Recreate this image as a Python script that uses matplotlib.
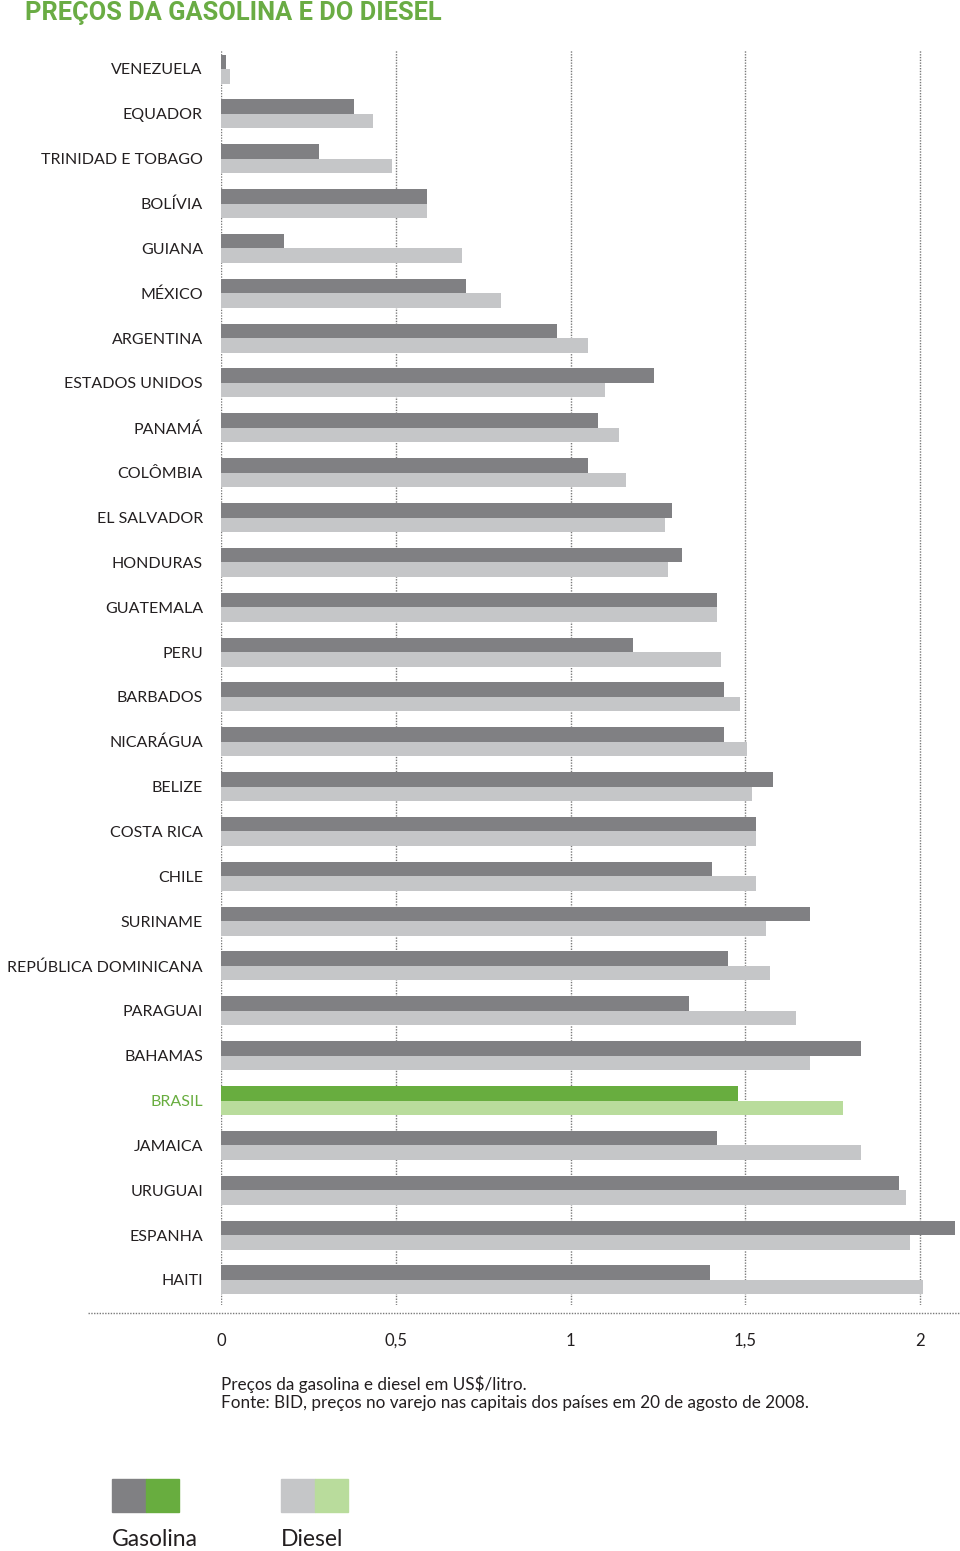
import matplotlib
matplotlib.use("Agg")
import matplotlib.pyplot as plt
from matplotlib.patches import Rectangle
from matplotlib.lines import Line2D
import numpy as np

# dados (US$/litro)
paises = ["VENEZUELA", "EQUADOR", "TRINIDAD E TOBAGO", "BOLÍVIA", "GUIANA", "MÉXICO",
          "ARGENTINA", "ESTADOS UNIDOS", "PANAMÁ", "COLÔMBIA", "EL SALVADOR", "HONDURAS",
          "GUATEMALA", "PERU", "BARBADOS", "NICARÁGUA", "BELIZE", "COSTA RICA", "CHILE",
          "SURINAME", "REPÚBLICA DOMINICANA", "PARAGUAI", "BAHAMAS", "BRASIL", "JAMAICA",
          "URUGUAI", "ESPANHA", "HAITI"]
gasolina = [0.015, 0.38, 0.28, 0.59, 0.18, 0.70, 0.96, 1.24, 1.08, 1.05, 1.29, 1.32,
            1.42, 1.18, 1.44, 1.44, 1.58, 1.53, 1.405, 1.685, 1.45, 1.34, 1.83, 1.48,
            1.42, 1.94, 2.10, 1.40]
diesel = [0.025, 0.435, 0.49, 0.59, 0.69, 0.80, 1.05, 1.10, 1.14, 1.16, 1.27, 1.28,
          1.42, 1.43, 1.485, 1.505, 1.52, 1.53, 1.53, 1.56, 1.57, 1.645, 1.685, 1.78,
          1.83, 1.96, 1.97, 2.01]
ticks = [0, 0.5, 1, 1.5, 2]
tick_labels = ["0", "0,5", "1", "1,5", "2"]
destaque = "BRASIL"

cinza_esc = "#808083"
cinza_cla = "#c5c6c8"
verde_esc = "#68ad3f"
verde_cla = "#b9dc9c"
verde_tit = "#6aac44"
texto = "#231f20"

plt.rcParams['font.family'] = ['Lato', 'DejaVu Sans']

W, H = 960, 1551
fig = plt.figure(figsize=(W / 100, H / 100), dpi=100)

# eixo: x de 221 a 960 px, y de 50 a 1305 px
ax = fig.add_axes([221 / W, 1 - 1305 / H, (960 - 221) / W, (1305 - 50) / H])
passo = 44.85
ax.set_ylim((1305 - 69) / passo, -(69 - 50) / passo)
ax.set_xlim(0, (960 - 221) / 349.5)

y = np.arange(len(paises))
h = 14.5 / passo
cores_g = [verde_esc if p == destaque else cinza_esc for p in paises]
cores_d = [verde_cla if p == destaque else cinza_cla for p in paises]
ax.barh(y - h / 2, gasolina, height=h, color=cores_g, zorder=3)
ax.barh(y + h / 2, diesel, height=h, color=cores_d, zorder=3)

for t in ticks:
    ax.axvline(t, color="#7a7a7a", linestyle=(0, (1, 1)), linewidth=1, zorder=1)

for s in ax.spines.values():
    s.set_visible(False)
ax.set_xticks(ticks)
ax.set_xticklabels(tick_labels)
ax.tick_params(axis="x", length=0, pad=20, labelsize=12, labelcolor=texto)
ax.set_yticks(y)
ax.set_yticklabels(paises)
ax.tick_params(axis="y", length=0, pad=13, labelsize=11.5)
for lab, p in zip(ax.get_yticklabels(), paises):
    lab.set_color(verde_esc if p == destaque else texto)

# linha pontilhada horizontal abaixo das barras
fig.add_artist(Line2D([88 / W, 1.0], [1 - 1313 / H, 1 - 1313 / H], color="#7a7a7a",
                      linestyle=(0, (1, 1)), linewidth=1))

fig.text(25 / W, 1 - 1 / H, "PREÇOS DA GASOLINA E DO DIESEL", color=verde_tit,
         fontsize=18.3, fontweight="bold", va="top", ha="left",
         family=['Roboto', 'DejaVu Sans'])

fig.text(221 / W, 1 - 1384 / H, "Preços da gasolina e diesel em US$/litro.",
         fontsize=12.3, color=texto, va="center")
fig.text(221 / W, 1 - 1403 / H, "Fonte: BID, preços no varejo nas capitais dos países em 20 de agosto de 2008.",
         fontsize=12.3, color=texto, va="center")

# legenda
for x0, c1, c2, nome in [(112, cinza_esc, verde_esc, "Gasolina"), (281, cinza_cla, verde_cla, "Diesel")]:
    fig.add_artist(Rectangle((x0 / W, 1 - 1512 / H), 34 / W, 33 / H, color=c1,
                             transform=fig.transFigure))
    fig.add_artist(Rectangle(((x0 + 34) / W, 1 - 1512 / H), 33 / W, 33 / H, color=c2,
                             transform=fig.transFigure))
    fig.text(x0 / W, 1 - 1540 / H, nome, fontsize=16.5, color=texto, va="center")

fig.savefig("out.png", dpi=100, facecolor="white")
